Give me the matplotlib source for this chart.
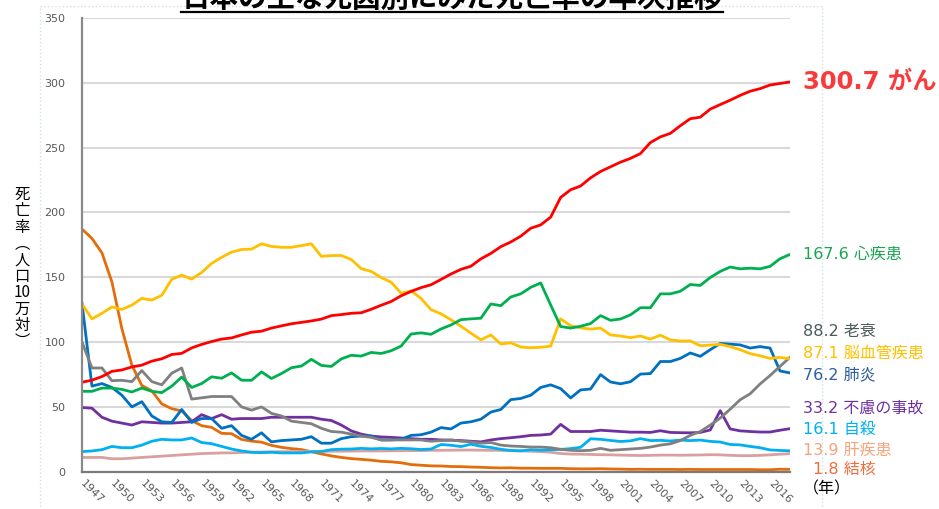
import matplotlib
matplotlib.use("Agg")
import matplotlib.pyplot as plt
from matplotlib.patches import Rectangle
from matplotlib.lines import Line2D
from matplotlib.transforms import blended_transform_factory

plt.rcParams["font.family"] = ["DejaVu Sans", "Noto Sans CJK JP"]

W, H = 939, 509

YEARS = list(range(1947, 2019))

# --- 死亡率（人口10万対）1947-2018 ---
CANCER = [69.0, 70.6, 73.4, 77.4, 78.5, 80.8, 82.2, 85.3, 87.1, 90.4,
          91.3, 95.5, 98.2, 100.4, 102.3, 103.2, 105.5, 107.6, 108.4, 110.8,
          112.5, 114.1, 115.2, 116.3, 117.7, 120.4, 121.2, 122.2, 122.6, 125.3,
          128.4, 131.3, 135.7, 139.1, 142.0, 144.2, 148.3, 152.5, 156.1, 158.5,
          164.2, 168.4, 173.6, 177.2, 181.7, 187.8, 190.4, 196.4, 211.6, 217.5,
          220.4, 226.7, 231.6, 235.2, 238.8, 241.7, 245.4, 253.9, 258.3, 261.0,
          266.9, 272.3, 273.5, 279.7, 283.2, 286.6, 290.3, 293.5, 295.5, 298.3,
          299.5, 300.7]
HEART = [62.0, 62.0, 64.5, 64.5, 63.5, 61.5, 64.5, 62.0, 61.0, 66.0,
         73.0, 65.0, 68.0, 73.2, 72.1, 76.2, 70.6, 70.5, 77.0, 71.9,
         75.7, 80.2, 81.5, 86.7, 82.0, 81.2, 87.0, 89.8, 89.2, 92.0,
         91.2, 93.3, 96.9, 106.2, 107.1, 106.0, 110.1, 113.2, 117.3, 117.9,
         118.4, 129.4, 128.1, 134.8, 137.2, 142.2, 145.6, 128.6, 112.0, 110.8,
         112.2, 114.3, 120.4, 116.8, 117.8, 121.0, 126.5, 126.5, 137.2, 137.2,
         139.2, 144.4, 143.7, 149.8, 154.5, 157.9, 156.5, 157.0, 156.5, 158.4,
         164.3, 167.6]
SENILITY = [100.0, 80.0, 80.0, 70.2, 70.5, 69.5, 78.0, 69.5, 67.0, 76.0,
            80.0, 56.0, 57.0, 58.0, 58.0, 58.0, 50.0, 47.5, 50.0, 45.0,
            43.0, 39.0, 38.0, 37.0, 33.5, 31.0, 30.5, 29.0, 27.5, 26.5,
            24.5, 24.5, 24.5, 24.5, 24.5, 23.5, 24.0, 24.5, 23.5, 23.0,
            22.0, 22.5, 20.5, 19.8, 19.5, 19.0, 19.0, 18.5, 17.3, 16.5,
            16.2, 16.5, 18.0, 16.5, 17.0, 17.5, 18.0, 19.0, 20.5, 21.5,
            24.0, 28.0, 31.0, 35.9, 41.4, 48.2, 55.5, 60.1, 67.7, 74.2,
            81.3, 88.2]
STROKE = [129.4, 117.9, 122.2, 127.1, 125.2, 128.5, 133.7, 132.4, 136.1, 148.4,
          151.7, 148.6, 153.7, 160.7, 165.4, 169.4, 171.4, 171.7, 175.8, 173.8,
          173.1, 173.1, 174.4, 175.8, 166.1, 166.7, 166.8, 163.7, 156.7, 154.5,
          149.8, 146.2, 137.7, 139.5, 133.7, 125.0, 121.8, 117.2, 112.2, 106.9,
          101.7, 105.5, 98.5, 99.4, 96.2, 95.6, 96.0, 96.9, 117.9, 112.6,
          111.0, 110.0, 110.8, 105.5, 104.7, 103.4, 104.7, 102.3, 105.3, 101.7,
          100.8, 100.9, 97.2, 97.7, 98.2, 96.5, 94.1, 91.1, 89.4, 87.4,
          88.2, 87.1]
PNEUMONIA = [130.0, 66.0, 68.0, 65.0, 59.0, 50.0, 54.0, 43.0, 38.5, 38.0,
             48.0, 38.0, 41.0, 41.0, 33.5, 35.5, 28.0, 25.0, 30.0, 23.0,
             24.0, 24.5, 25.0, 27.0, 22.0, 22.0, 25.5, 27.0, 27.5, 27.5,
             24.5, 24.5, 25.0, 28.0, 28.5, 30.5, 34.0, 33.0, 37.5, 38.5,
             40.5, 46.0, 48.0, 55.6, 56.5, 59.0, 65.0, 67.0, 64.1, 56.9,
             63.1, 63.8, 74.9, 69.2, 67.8, 69.4, 75.3, 75.7, 85.0, 85.0,
             87.4, 91.6, 89.0, 94.1, 98.9, 98.4, 97.8, 95.4, 96.5, 95.4,
             77.7, 76.2]
ACCIDENT = [49.5, 49.0, 42.0, 39.0, 37.5, 36.0, 38.5, 38.0, 37.5, 37.5,
            38.0, 38.5, 44.0, 41.0, 44.0, 40.5, 41.0, 41.0, 41.0, 42.0,
            42.0, 42.0, 42.0, 42.0, 40.5, 39.5, 36.0, 31.5, 29.0, 27.5,
            26.8, 26.5, 26.0, 25.5, 25.0, 25.0, 24.5, 24.3, 24.0, 23.5,
            23.0, 24.5, 25.5, 26.2, 27.0, 28.0, 28.3, 29.0, 36.5, 31.0,
            31.0, 31.0, 32.0, 31.5, 31.0, 30.5, 30.5, 30.3, 31.6, 30.3,
            30.1, 30.0, 30.3, 32.2, 47.1, 33.0, 31.5, 31.0, 30.6, 30.6,
            32.0, 33.2]
SUICIDE = [15.5, 16.0, 17.0, 19.5, 18.5, 18.5, 20.5, 23.5, 25.0, 24.5,
           24.5, 26.0, 22.5, 21.6, 19.5, 17.5, 16.0, 15.0, 14.7, 15.0,
           14.5, 14.5, 14.5, 15.3, 15.6, 17.0, 17.4, 17.5, 18.0, 17.6,
           17.9, 17.6, 18.0, 17.7, 17.1, 17.5, 21.0, 20.4, 19.4, 21.2,
           19.6, 18.7, 17.3, 16.4, 16.1, 16.9, 16.6, 16.9, 17.2, 17.8,
           18.8, 25.4, 25.0, 24.1, 23.3, 23.8, 25.5, 24.0, 24.2, 23.7,
           24.4, 24.0, 24.4, 23.4, 22.9, 21.0, 20.7, 19.5, 18.5, 16.8,
           16.4, 16.1]
LIVER = [11.0, 11.0, 11.0, 10.0, 10.0, 10.5, 11.0, 11.5, 12.0, 12.5,
         13.0, 13.5, 14.0, 14.2, 14.5, 14.5, 14.8, 15.0, 15.2, 15.3,
         15.4, 15.5, 15.5, 15.6, 15.7, 15.8, 15.8, 15.9, 16.0, 16.0,
         16.0, 16.1, 16.2, 16.2, 16.3, 16.5, 16.5, 16.6, 16.7, 16.7,
         16.6, 16.5, 16.4, 16.2, 16.0, 15.8, 15.5, 15.0, 14.0, 13.6,
         13.5, 13.3, 13.1, 13.0, 12.8, 12.6, 12.5, 12.6, 12.8, 12.8,
         12.7, 12.8, 12.9, 13.1, 13.0, 12.6, 12.4, 12.4, 12.6, 13.0,
         13.5, 13.9]
TB = [187.2, 179.9, 168.8, 146.4, 110.3, 82.2, 66.5, 62.4, 52.3, 48.6,
      46.9, 39.4, 35.5, 34.2, 29.6, 29.3, 24.9, 23.6, 22.8, 20.3,
      18.8, 17.8, 17.1, 15.4, 13.7, 12.2, 11.0, 10.1, 9.5, 8.9,
      8.0, 7.6, 6.9, 5.5, 5.0, 4.5, 4.4, 4.0, 3.9, 3.6,
      3.4, 3.1, 2.9, 3.0, 2.7, 2.7, 2.6, 2.6, 2.6, 2.3,
      2.2, 2.2, 2.3, 2.1, 2.0, 1.8, 1.9, 1.8, 1.8, 1.8,
      1.7, 1.8, 1.7, 1.7, 1.7, 1.7, 1.7, 1.7, 1.5, 1.5,
      1.9, 1.8]

# 系列: (データ, 線色, ラベル, ラベル色, ラベル位置(データ単位), ラベルx(px))
SERIES = [
    (TB, "#e46c0a", "1.8 結核", "#f26d3d", 2.1, 813),
    (LIVER, "#d9a0a0", "13.9 肝疾患", "#f6a47e", 16.7, 803),
    (SUICIDE, "#00b0f0", "16.1 自殺", "#00b0f0", 32.2, 803),
    (ACCIDENT, "#7030a0", "33.2 不慮の事故", "#7030a0", 49.1, 803),
    (PNEUMONIA, "#0070c0", "76.2 肺炎", "#2f5f9f", 74.6, 803),
    (SENILITY, "#808080", "88.2 老衰", "#4d5a5a", 107.8, 803),
    (STROKE, "#ffc000", "87.1 脳血管疾患", "#ffc000", 91.6, 803),
    (HEART, "#00b050", "167.6 心疾患", "#1aa651", 168.0, 803),
    (CANCER, "#ff0000", "300.7 がん", "#f83a3a", 300.7, 803),
]

XTICKS = list(range(1947, 2017, 3))
YTICKS = list(range(0, 351, 50))


def fx(px):
    return px / W


def fy(py):
    return 1 - py / H


fig = plt.figure(figsize=(W / 100, H / 100), dpi=100)
fig.patch.set_facecolor("white")

# 外枠（薄い点線）
fig.add_artist(Rectangle((fx(40), fy(600)), fx(822) - fx(40), fy(6) - fy(600),
                         transform=fig.transFigure, fill=False,
                         edgecolor="#cfe0e6", lw=1.0, ls=":"))

ax = fig.add_axes([fx(82), fy(471.7), fx(790) - fx(82), fy(18) - fy(471.7)])
for data, col, lab, lcol, ly, lx in SERIES:
    ax.plot(YEARS, data, color=col, lw=2.0, solid_joinstyle="round")

ax.set_xlim(1947, 2018)
ax.set_ylim(0, 350)
ax.set_yticks(YTICKS)
ax.set_xticks(XTICKS)
ax.set_xticklabels([str(y) for y in XTICKS], rotation=-45, ha="left",
                   va="center", rotation_mode="anchor")
ax.tick_params(axis="y", length=0, pad=12, labelsize=8, labelcolor="#595959")
ax.tick_params(axis="x", length=0, pad=7, labelsize=8, labelcolor="#595959")
ax.grid(axis="y", color="#d9d9d9", lw=1.5)
ax.set_axisbelow(True)
for s in ("top", "right"):
    ax.spines[s].set_visible(False)
ax.spines["left"].set_color("#8a8a8a")
ax.spines["left"].set_linewidth(1.6)
ax.spines["bottom"].set_color("#7a7a7a")
ax.spines["bottom"].set_linewidth(1.6)

# 右側のラベル
lab_tr = blended_transform_factory(fig.transFigure, ax.transData)
for data, col, lab, lcol, ly, lx in SERIES:
    big = lab.endswith("がん")
    fig.text(fx(lx), ly, lab, color=lcol, va="center", ha="left",
             fontsize=17.5 if big else 11.5,
             fontweight="bold" if big else "normal", transform=lab_tr)
fig.text(fx(803), fy(488.5), "（年）", color="black", fontsize=11.5,
         va="center", ha="left")

# 縦書きの軸ラベル
ylab = "\n".join(["死", "亡", "率", "︵", "人", "口", "10", "万", "対", "︶"])
fig.text(fx(22), fy(268), ylab, fontsize=11, ha="center", va="center",
         linespacing=0.95, family=["Noto Sans CJK JP", "DejaVu Sans"])

# タイトル（元画像同様、上端で切れる）
title = fig.text(fx(452), fy(7), "日本の主な死因別にみた死亡率の年次推移",
                 fontsize=20.5, fontweight="bold", ha="center", va="baseline",
                 family=["Noto Sans CJK JP"])
fig.canvas.draw()
bb = title.get_window_extent().transformed(fig.transFigure.inverted())
fig.add_artist(Line2D([bb.x0, bb.x1], [fy(12.3), fy(12.3)], color="black",
                      lw=1.6, transform=fig.transFigure))

fig.savefig("out.png", dpi=100)
